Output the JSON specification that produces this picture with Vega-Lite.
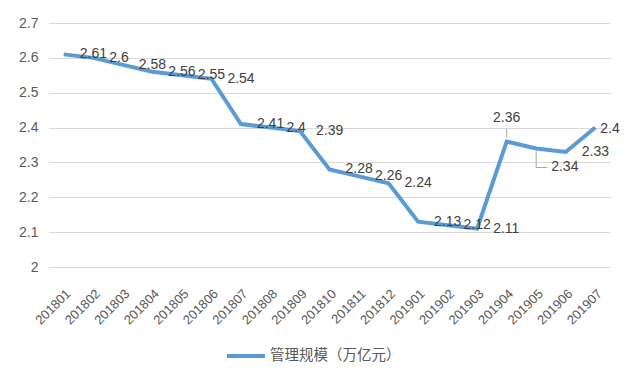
{
  "$schema": "https://vega.github.io/schema/vega-lite/v6.json",
  "width": 561,
  "height": 244,
  "autosize": {"type": "none"},
  "padding": {"left": 49, "top": 23, "right": 24, "bottom": 117},
  "background": "white",
  "config": {
    "view": {"stroke": null},
    "font": "Liberation Sans",
    "axis": {"labelColor": "#595959", "labelFontSize": 14, "labelFont": "Liberation Sans"}
  },
  "data": {
    "values": [
      {"month": "201801", "value": 2.61},
      {"month": "201802", "value": 2.6},
      {"month": "201803", "value": 2.58},
      {"month": "201804", "value": 2.56},
      {"month": "201805", "value": 2.55},
      {"month": "201806", "value": 2.54},
      {"month": "201807", "value": 2.41},
      {"month": "201808", "value": 2.4},
      {"month": "201809", "value": 2.39},
      {"month": "201810", "value": 2.28},
      {"month": "201811", "value": 2.26},
      {"month": "201812", "value": 2.24},
      {"month": "201901", "value": 2.13},
      {"month": "201902", "value": 2.12},
      {"month": "201903", "value": 2.11},
      {"month": "201904", "value": 2.36},
      {"month": "201905", "value": 2.34},
      {"month": "201906", "value": 2.33},
      {"month": "201907", "value": 2.4}
    ]
  },
  "encoding": {
    "x": {
      "field": "month",
      "type": "ordinal",
      "scale": {"type": "point", "padding": 0.5},
      "axis": {
        "title": null,
        "labelAngle": -45,
        "labelFontSize": 13,
        "ticks": false,
        "domain": false,
        "grid": false,
        "labelPadding": 20
      }
    },
    "y": {
      "field": "value",
      "type": "quantitative",
      "scale": {"domain": [2, 2.7], "nice": false, "zero": false},
      "axis": {
        "title": null,
        "values": [2, 2.1, 2.2, 2.3, 2.4, 2.5, 2.6, 2.7],
        "format": "~g",
        "ticks": false,
        "domain": false,
        "grid": true,
        "gridColor": "#D9D9D9",
        "gridWidth": 1,
        "labelPadding": 11
      }
    }
  },
  "layer": [
    {
      "mark": {"type": "line", "strokeWidth": 4, "strokeJoin": "miter"},
      "encoding": {
        "color": {
          "datum": "管理规模（万亿元）",
          "type": "nominal",
          "scale": {"range": ["#5B9BD5"]},
          "legend": {
            "title": null,
            "orient": "none",
            "legendX": 176,
            "legendY": 312,
            "symbolType": "stroke",
            "symbolSize": 1444,
            "symbolStrokeWidth": 4,
            "labelFont": "Noto Sans CJK SC",
            "labelFontSize": 14.5,
            "labelColor": "#595959",
            "labelOffset": 3
          }
        }
      }
    },
    {
      "transform": [{"filter": "datum.month != '201904' && datum.month != '201905' && datum.month != '201907'"}],
      "mark": {"type": "text", "align": "left", "baseline": "middle", "dx": 16, "fontSize": 14, "color": "#404040"},
      "encoding": {"text": {"field": "value", "type": "quantitative"}}
    },
    {
      "transform": [{"filter": "datum.month == '201904'"}],
      "mark": {"type": "text", "align": "center", "baseline": "middle", "dy": -24, "fontSize": 14, "color": "#404040"},
      "encoding": {"text": {"field": "value", "type": "quantitative"}}
    },
    {
      "transform": [{"filter": "datum.month == '201905'"}],
      "mark": {"type": "text", "align": "left", "baseline": "middle", "dx": 15, "dy": 19, "fontSize": 14, "color": "#404040"},
      "encoding": {"text": {"field": "value", "type": "quantitative"}}
    },
    {
      "transform": [{"filter": "datum.month == '201907'"}],
      "mark": {"type": "text", "align": "left", "baseline": "middle", "dx": 5, "dy": 1, "fontSize": 14, "color": "#404040"},
      "encoding": {"text": {"field": "value", "type": "quantitative"}}
    },
    {
      "transform": [{"filter": "datum.month == '201904'"}],
      "mark": {"type": "rule", "color": "#A6A6A6", "strokeWidth": 1, "yOffset": -4, "y2Offset": -13},
      "encoding": {"y2": {"field": "value"}}
    },
    {
      "transform": [{"filter": "datum.month == '201905'"}],
      "mark": {"type": "rule", "color": "#A6A6A6", "strokeWidth": 1, "yOffset": 2, "y2Offset": 19},
      "encoding": {"y2": {"field": "value"}}
    },
    {
      "transform": [{"filter": "datum.month == '201905'"}],
      "mark": {"type": "rule", "color": "#A6A6A6", "strokeWidth": 1, "yOffset": 19, "y2Offset": 19, "x2Offset": 11},
      "encoding": {"x2": {"field": "month"}, "y2": {"field": "value"}}
    }
  ]
}
